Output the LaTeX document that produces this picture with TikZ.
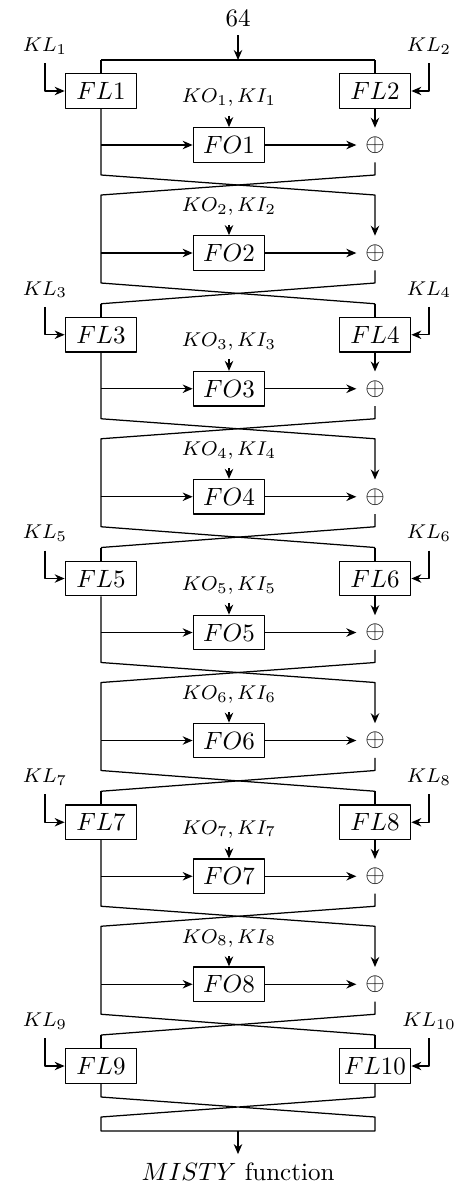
\documentclass[tikz,border=0pt]{standalone}
\usetikzlibrary{positioning,calc,arrows.meta}
\begin{document}
\begin{tikzpicture}[x=0.4pt, y=-0.4pt, line width=0.5pt, line join=round,
    >={Stealth[length=4pt,width=3.4pt]},
    fbox/.style={draw, minimum width=28.6pt, minimum height=13.8pt, inner sep=1pt},
    klab/.style={font=\footnotesize},
    rlab/.style={font=\footnotesize}]

    \useasboundingbox (0,0) rectangle (457,1182);

    % Đầu vào
    \node (in) at (238,18) {$64$};
    \coordinate (top) at (238,60);
    \coordinate (t0l) at (101,60);
    \coordinate (t0r) at (375,60);
    \draw[->] (in) -- (top);
    \draw (t0l) -- (t0r);

    % Hai vòng FO cho mỗi cặp FL
    \foreach \i in {1,...,4} {
        \pgfmathsetmacro\c{91+(\i-1)*243.75}
        \pgfmathtruncatemacro\kl{2*\i-1}
        \pgfmathtruncatemacro\kr{2*\i}
        \pgfmathtruncatemacro\p{\i-1}

        % Các hộp FL và khóa KL
        \node[fbox] (FL\kl) at (101,\c) {$FL\kl$};
        \node[fbox] (FL\kr) at (375,\c) {$FL\kr$};
        \node[klab] (KL\kl) at (45,\c-45) {$KL_{\kl}$};
        \node[klab] (KL\kr) at (429,\c-45) {$KL_{\kr}$};
        \draw[->] (KL\kl) |- (FL\kl);
        \draw[->] (KL\kr) |- (FL\kr);
        \draw (t\p l) -- (FL\kl);
        \draw (t\p r) -- (FL\kr);

        % Vòng lẻ
        \node[rlab] (K\kl) at (229,\c+7) {$KO_{\kl},KI_{\kl}$};
        \node[fbox] (FO\kl) at (229,\c+54) {$FO\kl$};
        \node (X\kl) at (375,\c+54) {$\oplus$};
        \draw[->] (K\kl) -- (FO\kl);
        \draw[->] (FL\kl |- FO\kl) -- (FO\kl);
        \draw[->] (FO\kl) -- (X\kl);
        \draw[->] (FL\kr) -- (X\kl);

        % Vòng chẵn
        \node[rlab] (K\kr) at (229,\c+116) {$KO_{\kr},KI_{\kr}$};
        \node[fbox] (FO\kr) at (229,\c+162) {$FO\kr$};
        \node (X\kr) at (375,\c+162) {$\oplus$};
        \draw[->] (K\kr) -- (FO\kr);
        \draw[->] (FL\kl |- FO\kr) -- (FO\kr);
        \draw[->] (FO\kr) -- (X\kr);

        % Đường chéo giữa hai vòng
        \coordinate (a\i) at (101,\c+84);
        \coordinate (b\i) at (375,\c+84);
        \coordinate (c\i) at (101,\c+104);
        \coordinate (d\i) at (375,\c+104);
        \draw[->] (FL\kl) -- (a\i) -- (d\i) -- (X\kr);
        \draw (X\kl) -- (b\i) -- (c\i) -- (c\i |- FO\kr);

        % Đường chéo trước cặp FL tiếp theo
        \coordinate (e\i) at (101,\c+192);
        \coordinate (f\i) at (375,\c+192);
        \coordinate (t\i l) at (101,\c+212.75);
        \coordinate (t\i r) at (375,\c+212.75);
        \draw (c\i |- FO\kr) -- (e\i) -- (t\i r);
        \draw (X\kr) -- (f\i) -- (t\i l);
    }

    % Cặp FL cuối
    \node[fbox] (FL9) at (101,1066) {$FL9$};
    \node[fbox] (FL10) at (375,1066) {$FL10$};
    \node[klab] (KL9) at (45,1021) {$KL_9$};
    \node[klab] (KL10) at (429,1021) {$KL_{10}$};
    \draw[->] (KL9) |- (FL9);
    \draw[->] (KL10) |- (FL10);
    \draw (t4l) -- (FL9);
    \draw (t4r) -- (FL10);

    % Đầu ra
    \coordinate (g1) at (101,1097);
    \coordinate (g2) at (375,1097);
    \coordinate (h1) at (101,1117);
    \coordinate (h2) at (375,1117);
    \coordinate (bot) at (238,1131);
    \draw (FL9) -- (g1) -- (h2) -- (375,1131) -- (101,1131) -- (h1) -- (g2) -- (FL10);
    \node (out) at (238,1172) {$MISTY$ function};
    \draw[->] (bot) -- (out);

\end{tikzpicture}
\end{document}
